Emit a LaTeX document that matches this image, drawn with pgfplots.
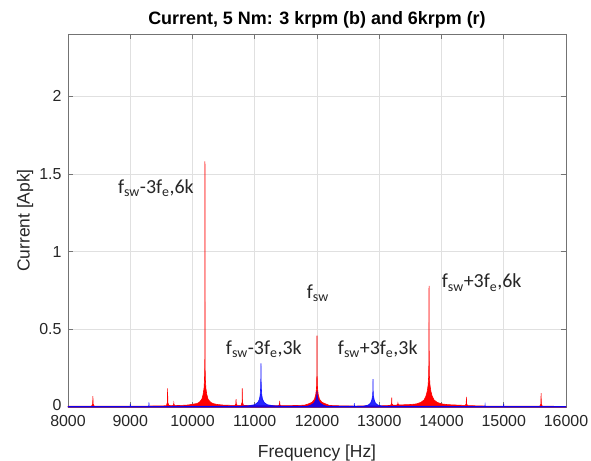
\documentclass[border=0pt]{standalone}
\usepackage{pgfplots}
\pgfplotsset{compat=1.18}
\usepackage{fontspec}
\setmainfont{Liberation Sans}
\newfontfamily\calfont{Carlito}
\begin{document}
\begin{tikzpicture}
\begin{axis}[
  name=ax,
  scale only axis, width=498bp, height=373bp,
  xmin=8000, xmax=16000, ymin=0, ymax=2.4,
  scaled x ticks=false,
  xtick={8000,9000,10000,11000,12000,13000,14000,15000,16000},
  xticklabels={8000,9000,10000,11000,12000,13000,14000,15000,16000},
  ytick={0,0.5,1,1.5,2}, yticklabels={\raisebox{4bp}{0},0.5,1,1.5,2},
  /pgf/number format/assume math mode=true,
  grid=major, major grid style={black!12, line width=0.6pt},
  axis line style={black!55, line width=0.8pt},
  tick style={black!55, line width=0.6pt}, major tick length=5bp,
  tick label style={font=\fontsize{16}{19}\selectfont, text=black!85},
  xticklabel style={yshift=-5bp},
  yticklabel style={xshift=-3bp},
  xlabel={Frequency [Hz]}, ylabel={Current [Apk]},
  label style={font=\fontsize{17.5}{20}\selectfont, text=black!85},
  xlabel style={at={(axis description cs:0.5,-0.122)}, anchor=center},
  ylabel style={at={(axis description cs:-0.086,0.5)}, anchor=center},
  title={Current, 5 Nm: 3 krpm (b) and 6krpm (r)},
  title style={font=\bfseries\fontsize{18}{21}\selectfont, yshift=-4bp},
]
\addplot[red, line width=0.6pt, fill=red] coordinates {
(8000,0.005)(8200,0.006)(8380,0.006)(8397,0.02)(8400,0.07)(8403,0.02)(8420,0.006)
(8700,0.005)(9000,0.006)(9300,0.006)
(9580,0.008)(9597,0.03)(9600,0.12)(9603,0.03)(9620,0.01)
(9680,0.008)(9697,0.015)(9700,0.025)(9703,0.015)(9720,0.009)
(9800,0.01)(9900,0.012)(9950,0.014)
(10000,0.018)(10070,0.022)(10100,0.028)(10120,0.035)(10150,0.05)(10170,0.08)(10185,0.12)(10192,0.17)(10197,0.25)(10199,0.45)(10200,1.58)
(10201,0.45)(10203,0.25)(10208,0.17)(10215,0.12)(10230,0.08)(10250,0.05)(10280,0.035)(10300,0.028)(10330,0.022)
(10400,0.016)(10500,0.012)
(10680,0.01)(10697,0.02)(10700,0.05)(10703,0.02)(10720,0.01)
(10780,0.01)(10797,0.03)(10800,0.12)(10803,0.03)(10820,0.01)
(11000,0.008)
(11380,0.008)(11397,0.015)(11400,0.04)(11403,0.015)(11420,0.008)
(11700,0.01)(11800,0.012)
(11850,0.018)(11920,0.03)(11960,0.05)(11980,0.08)(11992,0.12)(11997,0.2)(11999,0.3)(12000,0.46)
(12001,0.3)(12003,0.2)(12008,0.12)(12020,0.08)(12040,0.05)(12080,0.03)(12150,0.018)
(12200,0.01)(12400,0.007)(12600,0.006)(13000,0.007)
(13180,0.01)(13197,0.02)(13200,0.06)(13203,0.02)(13220,0.012)
(13280,0.012)(13297,0.018)(13300,0.025)(13303,0.018)(13320,0.013)
(13500,0.016)(13600,0.02)(13670,0.03)(13720,0.045)(13750,0.07)(13770,0.1)(13785,0.14)(13794,0.2)(13797,0.3)(13799,0.5)(13800,0.78)
(13801,0.5)(13803,0.3)(13806,0.2)(13815,0.14)(13830,0.1)(13850,0.07)(13880,0.045)(13930,0.03)(14000,0.02)
(14100,0.015)
(14380,0.01)(14397,0.02)(14400,0.065)(14403,0.02)(14420,0.009)
(14700,0.006)(15000,0.005)
(15580,0.005)(15597,0.02)(15600,0.09)(15603,0.02)(15620,0.005)
(16000,0.004)
} \closedcycle;
\addplot[blue, line width=0.6pt, fill=blue, opacity=0.85] coordinates {
(8000,0.004)(8997,0.004)(9000,0.02)(9003,0.004)
(9297,0.004)(9300,0.03)(9303,0.004)
(10000,0.005)(10800,0.006)
(10900,0.008)(11000,0.015)(11050,0.03)(11075,0.05)(11088,0.08)(11095,0.13)(11098,0.2)(11100,0.28)
(11102,0.2)(11105,0.13)(11112,0.08)(11125,0.05)(11150,0.03)(11200,0.015)(11300,0.008)
(11500,0.005)
(11850,0.006)(11900,0.012)(11950,0.025)(11980,0.045)(11992,0.065)(11998,0.08)(12000,0.1)
(12002,0.08)(12008,0.065)(12020,0.045)(12050,0.025)(12100,0.012)(12150,0.006)
(12597,0.005)(12600,0.025)(12603,0.005)
(12750,0.006)(12820,0.012)(12860,0.025)(12880,0.045)(12893,0.07)(12898,0.11)(12900,0.18)
(12902,0.11)(12907,0.07)(12920,0.045)(12940,0.025)(12980,0.012)(13050,0.006)
(13500,0.005)
(14697,0.004)(14700,0.015)(14703,0.004)
(14997,0.004)(15000,0.02)(15003,0.004)
(16000,0.004)
} \closedcycle;
\node[font=\calfont\fontsize{20}{23}\selectfont, text=black!85] at (axis cs:9412,1.41) {f\textsubscript{sw}-3f\textsubscript{e},6k};
\node[font=\calfont\fontsize{20}{23}\selectfont, text=black!85] at (axis cs:12013,0.73) {f\textsubscript{sw}};
\node[font=\calfont\fontsize{20}{23}\selectfont, text=black!85] at (axis cs:11146,0.37) {f\textsubscript{sw}-3f\textsubscript{e},3k};
\node[font=\calfont\fontsize{20}{23}\selectfont, text=black!85] at (axis cs:12976,0.37) {f\textsubscript{sw}+3f\textsubscript{e},3k};
\node[font=\calfont\fontsize{20}{23}\selectfont, text=black!85] at (axis cs:14645,0.80) {f\textsubscript{sw}+3f\textsubscript{e},6k};
\end{axis}
\pgfresetboundingbox
\path[use as bounding box] ([shift={(-68bp,-54bp)}]ax.south west) rectangle ([shift={(25bp,34bp)}]ax.north east);
\end{tikzpicture}
\end{document}
